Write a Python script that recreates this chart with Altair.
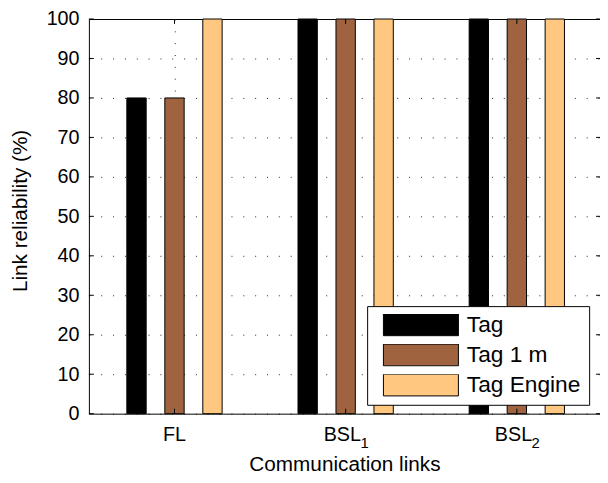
import altair as alt
import pandas as pd

# ---- data ----
categories = ["FL", "BSL", "BSL"]
subscripts = ["", "1", "2"]
cat_index = [1, 2, 3]
series = ["Tag", "Tag 1 m", "Tag Engine"]
tag = [80, 100, 100]
tag_1m = [80, 100, 100]
tag_engine = [100, 100, 100]
colors = ["#000000", "#9F643F", "#FFC77F"]
y_ticks = list(range(0, 101, 10))

rows = []
for j, (name, vals) in enumerate(zip(series, [tag, tag_1m, tag_engine])):
    for i, v in enumerate(vals):
        rows.append({"pos": cat_index[i], "series": name, "sidx": j, "value": v})
bars_df = pd.DataFrame(rows)
labels_df = pd.DataFrame({"pos": cat_index, "label": categories, "sub": subscripts})
yt_df = pd.DataFrame({"y": y_ticks})
xt_df = pd.DataFrame({"pos": cat_index})

W, H = 518, 400
FONT = "Liberation Sans"
xscale = alt.Scale(domain=[0.5, 3.486], nice=False, zero=False)
yscale = alt.Scale(domain=[0, 100], nice=False, zero=True)

bars = alt.Chart(bars_df).transform_calculate(
    center="datum.pos + (datum.sidx - 1) * 0.2219"
).transform_calculate(
    x0="datum.center - 0.0565", x1="datum.center + 0.0565"
).mark_bar(stroke="black", strokeWidth=1).encode(
    x=alt.X("x0:Q", scale=xscale, axis=alt.Axis(
        values=cat_index, labels=False, ticks=False, grid=True,
        gridDash=[1, 11], gridColor="#222222", gridWidth=1,
        domainColor="black", domainWidth=1,
        title="Communication links", titleFontSize=21, titleFont=FONT,
        titleFontWeight="normal", titleColor="black",
        titleY=58, titleBaseline="alphabetic")),
    x2="x1:Q",
    y=alt.Y("value:Q", scale=yscale, axis=alt.Axis(
        values=y_ticks, ticks=False, grid=True,
        gridDash=[1, 11], gridColor="#222222", gridWidth=1,
        domainColor="black", domainWidth=1,
        labelFontSize=20, labelFont=FONT, labelColor="black", labelPadding=10,
        title="Link reliability (%)", titleFontSize=21, titleFont=FONT,
        titleFontWeight="normal", titleColor="black",
        titleX=-63, titleY=194, titleBaseline="alphabetic")),
    y2=alt.datum(0),
    color=alt.Color("series:N", scale=alt.Scale(domain=series, range=colors),
                    legend=alt.Legend(
                        orient="none", legendX=282, legendY=291, title=None,
                        symbolType="M-1,-0.2895L1,-0.2895L1,0.2895L-1,0.2895Z",
                        symbolSize=5776, clipHeight=22,
                        symbolStrokeColor="black", symbolStrokeWidth=1,
                        labelFontSize=23, labelFont=FONT, labelColor="black",
                        labelOffset=8, symbolOffset=8, rowPadding=7.5,
                        padding=8, strokeColor="black", fillColor="white",
                        cornerRadius=0, labelLimit=400)),
)

main_plain = alt.Chart(labels_df).transform_filter("datum.sub == ''").mark_text(
    align="center", baseline="alphabetic", fontSize=20, font=FONT, color="black"
).encode(x=alt.X("pos:Q", scale=xscale, axis=None), y=alt.value(428), text="label:N")

main_sub = alt.Chart(labels_df).transform_filter("datum.sub != ''").mark_text(
    align="right", baseline="alphabetic", fontSize=20, font=FONT, color="black", dx=15.5
).encode(x=alt.X("pos:Q", scale=xscale, axis=None), y=alt.value(428), text="label:N")

sub_text = alt.Chart(labels_df).transform_filter("datum.sub != ''").mark_text(
    align="left", baseline="alphabetic", fontSize=15, font=FONT, color="black", dx=15
).encode(x=alt.X("pos:Q", scale=xscale, axis=None), y=alt.value(435), text="sub:N")

ytick_left = alt.Chart(yt_df).mark_rule(color="black", strokeWidth=1).encode(
    y=alt.Y("y:Q", scale=yscale, axis=None), x=alt.value(0), x2=alt.value(5))
ytick_right = alt.Chart(yt_df).mark_rule(color="black", strokeWidth=1).encode(
    y=alt.Y("y:Q", scale=yscale, axis=None), x=alt.value(W - 4), x2=alt.value(W))
xtick_bottom = alt.Chart(xt_df).mark_rule(color="black", strokeWidth=1).encode(
    x=alt.X("pos:Q", scale=xscale, axis=None), y=alt.value(H - 5), y2=alt.value(H))
xtick_top = alt.Chart(xt_df).mark_rule(color="black", strokeWidth=1).encode(
    x=alt.X("pos:Q", scale=xscale, axis=alt.Axis(
        orient="top", labels=False, ticks=False, grid=False, title=None,
        domainColor="black", domainWidth=1)),
    y=alt.value(0), y2=alt.value(5))

chart = alt.layer(
    bars, main_plain, main_sub, sub_text, ytick_left, ytick_right, xtick_bottom, xtick_top
).resolve_axis(x="independent", y="independent").properties(
    width=W, height=H,
    autosize=alt.AutoSizeParams(type="none"),
    padding={"left": 82, "top": 8, "right": 0, "bottom": 59},
    background="white",
).configure_view(stroke=None)

chart.save("out.html", embed_options={"renderer": "svg", "actions": False})
